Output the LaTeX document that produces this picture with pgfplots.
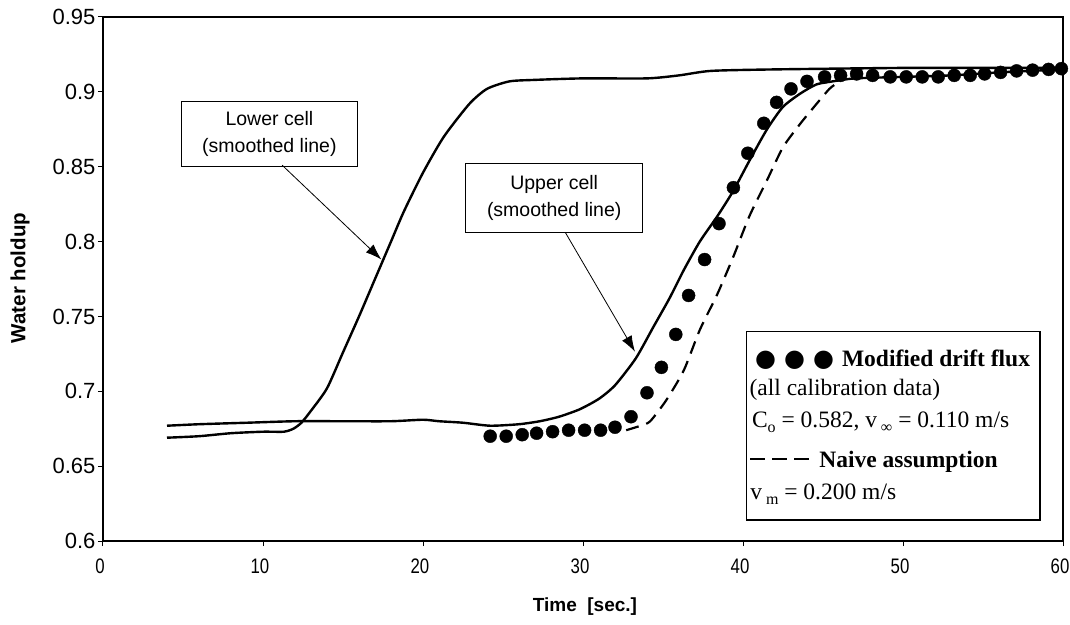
\documentclass[border=0pt]{standalone}
\usepackage{pgfplots}
\pgfplotsset{compat=1.18}
\usepackage{fontspec}
\setmainfont{Liberation Sans}
\newfontfamily\timesfont{Liberation Serif}
\newfontfamily\symfont{DejaVu Sans}
\newfontfamily\narrowfont[FakeStretch=0.8]{Liberation Sans}
\usetikzlibrary{arrows.meta}
\newcommand\sub[1]{\raisebox{-0.45ex}{\fontsize{16}{16}\selectfont #1}}
\begin{document}
\begin{tikzpicture}[x=1pt,y=1pt]
\useasboundingbox (-103,-83) rectangle (967,541);
\begin{axis}[
  at={(0,0)}, anchor=south west,
  scale only axis, width=960pt, height=524pt,
  xmin=0, xmax=60, ymin=0.6, ymax=0.95,
  xtick={0,10,20,30,40,50,60},
  ytick={0.6,0.65,0.7,0.75,0.8,0.85,0.9,0.95},
  tick align=outside, tick pos=left,
  major tick length=5pt,
  axis line style={line width=1.6pt},
  every tick/.style={line width=1pt, black},
  /pgf/number format/assume math mode=true,
  yticklabel style={/pgf/number format/.cd, fixed, precision=2, /tikz/.cd, font=\fontsize{22}{26}\selectfont, xshift=1pt},
  xticklabel style={font=\narrowfont\fontsize{21}{25}\selectfont, yshift=-9pt, xshift=-3pt},
  xlabel={Time\ \ [sec.]}, ylabel={Water holdup},
  xlabel style={font=\bfseries\fontsize{19}{22}\selectfont, at={(axis description cs:0.502,-0.126)}, anchor=center},
  ylabel style={font=\bfseries\fontsize{20.5}{24}\selectfont, at={(axis description cs:-0.0865,0.502)}, anchor=center},
  clip=false,
]
% Lower cell (smoothed line)
\addplot[black, line width=2.4pt, smooth, tension=0.4] coordinates {
(4,0.669) (6,0.670) (8,0.672) (10,0.673) (11.3,0.673) (11.9,0.675) (12.4,0.679)
(13,0.687) (14,0.702) (15,0.726) (16,0.750) (17,0.775) (18,0.800) (18.8,0.820)
(20,0.846) (21.3,0.870) (22.9,0.892) (24,0.902) (25.4,0.907) (27,0.908) (30,0.909)
(34,0.909) (36,0.911) (38,0.914) (42,0.915) (50,0.916) (55,0.916) (60,0.916)
};
% Upper cell (smoothed line)
\addplot[black, line width=2.4pt, smooth, tension=0.4] coordinates {
(4,0.677) (6,0.678) (9,0.679) (12,0.680) (15,0.680) (18,0.680) (20,0.681) (21,0.680)
(22.5,0.679) (24.2,0.677) (26,0.678) (27.3,0.680) (28.5,0.683) (29.8,0.688) (31,0.695)
(32,0.704) (33.3,0.722) (34.4,0.743) (35.4,0.762) (36.3,0.781) (37.3,0.800) (38.4,0.817)
(39.4,0.834) (40.4,0.854) (41.5,0.875) (42.5,0.890) (43.6,0.899) (44.6,0.905) (45.6,0.907)
(47,0.909) (50,0.910) (53,0.911) (56,0.913) (60,0.915)
};
% Naive assumption
\addplot[black, line width=2.2pt, smooth, tension=0.4, dash pattern=on 13pt off 8pt] coordinates {
(32.7,0.674) (33.6,0.677) (34.2,0.680) (35.2,0.694) (36.3,0.714) (37.3,0.741) (38.4,0.765)
(39.4,0.790) (40.4,0.817) (41.5,0.841) (42.5,0.863) (43.6,0.879) (44.6,0.892) (45.4,0.902) (45.9,0.906)
};
% Modified drift flux
\addplot[only marks, mark=*, mark size=6.5pt, black] coordinates {
(24.2,0.670) (25.2,0.670) (26.2,0.671) (27.1,0.672) (28.1,0.673) (29.1,0.674) (30.1,0.674)
(31.1,0.674) (32.0,0.676) (33.0,0.683) (34.0,0.699) (34.9,0.716) (35.8,0.738) (36.6,0.764)
(37.6,0.788) (38.5,0.812) (39.4,0.836) (40.3,0.859) (41.3,0.879) (42.1,0.893) (43.0,0.902)
(44.0,0.907) (45.1,0.910) (46.1,0.911) (47.1,0.912) (48.1,0.911) (49.2,0.910) (50.2,0.910)
(51.2,0.910) (52.2,0.910) (53.2,0.911) (54.2,0.911) (55.1,0.912) (56.1,0.913) (57.1,0.914)
(58.1,0.9145) (59.1,0.915) (59.9,0.9155)
};
% annotation boxes
\node[draw, fill=white, line width=0.8pt, align=center, minimum width=176pt, minimum height=65pt,
  font=\fontsize{19.5}{27}\selectfont, inner sep=2pt] at (axis cs:10.4,0.872) {Lower cell\\(smoothed line)};
\draw[line width=0.8pt, -{Latex[length=16pt,width=11pt]}] (axis cs:11.2,0.851) -- (axis cs:17.4,0.788);
\node[draw, fill=white, line width=0.8pt, align=center, minimum width=177pt, minimum height=69pt,
  font=\fontsize{19.5}{27}\selectfont, inner sep=2pt] at (axis cs:28.2,0.8294) {Upper cell\\(smoothed line)};
\draw[line width=0.8pt, -{Latex[length=16pt,width=11pt]}] (axis cs:28.9,0.806) -- (axis cs:33.25,0.7264);
% legend box
\draw[line width=1.3pt, fill=white] (axis cs:40.23,0.7398) rectangle (axis cs:58.56,0.614);
\node[anchor=base west, inner sep=0pt, font=\timesfont\fontsize{23.5}{23.5}\selectfont] at (axis cs:40.75,0.7165)
  {{\symfont\fontsize{24}{24}\selectfont ●\hspace{8pt}●\hspace{8pt}●}\hspace{8pt}\textbf{Modified drift flux}};
\node[anchor=base west, inner sep=0pt, font=\timesfont\fontsize{23.5}{23.5}\selectfont] at (axis cs:40.4,0.6975)
  {(all calibration data)};
\node[anchor=base west, inner sep=0pt, font=\timesfont\fontsize{23.5}{23.5}\selectfont] at (axis cs:40.55,0.6755)
  {C\sub{o} = 0.582, v\,\sub{∞} = 0.110 m/s};
\node[anchor=base west, inner sep=0pt, font=\timesfont\fontsize{23.5}{23.5}\selectfont] at (axis cs:40.45,0.6494)
  {\raisebox{0.3em}{\rule{15pt}{1.7pt}\hspace{7pt}\rule{15pt}{1.7pt}\hspace{7pt}\rule{15pt}{1.7pt}}\hspace{10pt}\textbf{Naive assumption}};
\node[anchor=base west, inner sep=0pt, font=\timesfont\fontsize{23.5}{23.5}\selectfont] at (axis cs:40.45,0.6274)
  {v\,\sub{m} = 0.200 m/s};
\end{axis}
\end{tikzpicture}
\end{document}
